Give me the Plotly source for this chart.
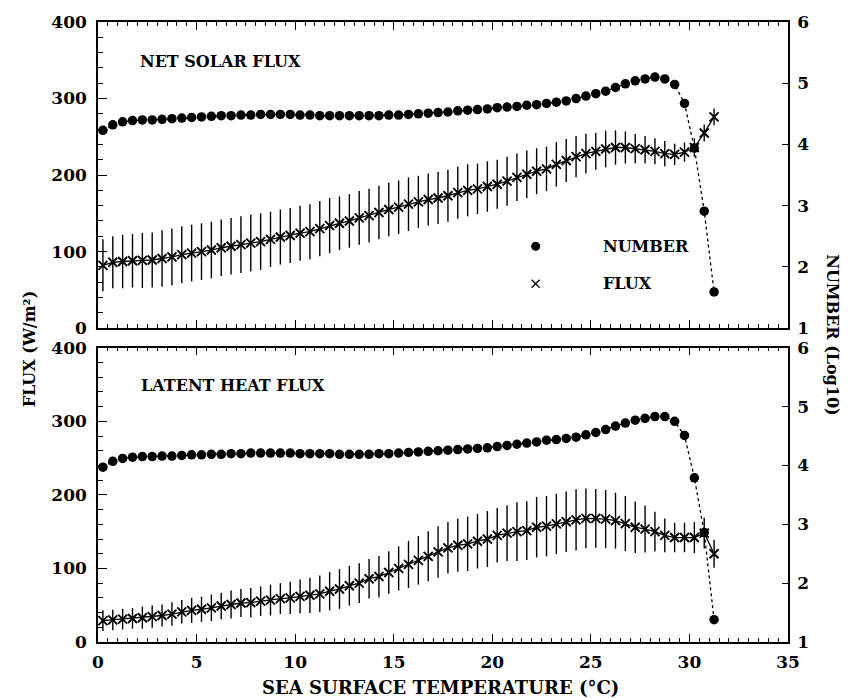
import plotly.graph_objects as go

# Sea surface temperature bins (deg C)
temps = [0.25, 0.75, 1.25, 1.75, 2.25, 2.75, 3.25, 3.75, 4.25, 4.75,
         5.25, 5.75, 6.25, 6.75, 7.25, 7.75, 8.25, 8.75, 9.25, 9.75,
         10.25, 10.75, 11.25, 11.75, 12.25, 12.75, 13.25, 13.75, 14.25, 14.75,
         15.25, 15.75, 16.25, 16.75, 17.25, 17.75, 18.25, 18.75, 19.25, 19.75,
         20.25, 20.75, 21.25, 21.75, 22.25, 22.75, 23.25, 23.75, 24.25, 24.75,
         25.25, 25.75, 26.25, 26.75, 27.25, 27.75, 28.25, 28.75, 29.25, 29.75,
         30.25, 30.75, 31.25]

# Net solar flux panel
solar_number = [4.23, 4.32, 4.37, 4.39, 4.40, 4.40, 4.41, 4.42, 4.43, 4.44,
                4.45, 4.46, 4.47, 4.47, 4.48, 4.48, 4.49, 4.49, 4.49, 4.49,
                4.48, 4.48, 4.47, 4.47, 4.47, 4.47, 4.47, 4.47, 4.47, 4.48,
                4.48, 4.49, 4.50, 4.51, 4.52, 4.53, 4.55, 4.56, 4.57, 4.58,
                4.60, 4.61, 4.62, 4.64, 4.65, 4.67, 4.69, 4.71, 4.75, 4.79,
                4.83, 4.87, 4.93, 4.99, 5.04, 5.07, 5.10, 5.07, 4.98, 4.67,
                3.94, 2.91, 1.59]
solar_flux = [82, 86, 87, 88, 88.5, 89, 91, 93, 96, 98,
              100, 102, 105, 107, 109, 111, 113, 116, 119, 121,
              124, 126, 130, 134, 137, 140, 144, 147, 151, 155,
              158, 162, 165, 168, 170, 173, 177, 180, 182, 185,
              188, 192, 197, 201, 205, 208, 214, 219, 224, 228,
              231, 234, 236, 236, 234.5, 233, 231, 228, 227, 230,
              236, 255, 276]
solar_err = [34, 34, 35, 35, 36, 36, 37, 37, 37, 37,
             37, 37, 37, 37, 37, 37, 37, 36, 36, 36,
             36, 36, 36, 36, 35, 35, 35, 35, 35, 35,
             35, 35, 34, 34, 34, 34, 34, 34, 33, 33,
             32, 32, 31, 31, 30, 29, 29, 28, 27, 26,
             24, 24, 22.5, 21, 19, 18, 17, 16.5, 14, 12.5,
             12, 11, 11]

# Latent heat flux panel
latent_number = [3.97, 4.07, 4.12, 4.14, 4.15, 4.15, 4.16, 4.16, 4.17, 4.18,
                 4.18, 4.19, 4.19, 4.20, 4.20, 4.21, 4.21, 4.21, 4.21, 4.21,
                 4.20, 4.20, 4.20, 4.20, 4.19, 4.19, 4.19, 4.19, 4.20, 4.20,
                 4.21, 4.22, 4.23, 4.24, 4.25, 4.26, 4.27, 4.28, 4.29, 4.30,
                 4.32, 4.34, 4.36, 4.38, 4.40, 4.43, 4.44, 4.46, 4.48, 4.52,
                 4.56, 4.61, 4.67, 4.72, 4.77, 4.80, 4.83, 4.83, 4.75, 4.51,
                 3.79, 2.86, 1.38]
latent_flux = [29, 30, 31, 32, 33, 34.5, 36, 38, 41, 43,
               44.5, 46.5, 49, 51, 53, 53.5, 55.5, 57, 59, 60,
               62, 63.5, 65.5, 69, 72, 76.5, 80, 86, 89, 94.5,
               100, 105.5, 111, 116.5, 122.5, 128, 131.5, 133.5, 137, 140,
               145, 148, 150, 151.5, 156, 157.5, 160.5, 163.5, 166, 168,
               168, 167, 165, 161, 156, 153.5, 150, 145, 142, 142,
               142, 148, 120]
latent_err = [14, 14, 14, 14, 15, 15, 15, 16, 16, 17,
              17, 18, 18, 19, 19, 20, 20, 21, 21, 22,
              23, 24, 25, 26, 27, 27, 27, 27, 28, 29,
              30, 32, 33, 34, 35, 35, 36, 37, 37, 38,
              37, 38, 40, 40, 41, 41, 41, 41, 41.5, 40.5,
              40, 39.5, 38, 37.5, 35, 32, 27, 23, 20, 20,
              21, 21, 19]

x_ticks = [0, 5, 10, 15, 20, 25, 30, 35]
flux_ticks = [0, 100, 200, 300, 400]
number_ticks = [1, 2, 3, 4, 5, 6]

FONT = "DejaVu Serif"
INK = "black"


def bold(s):
    return "<b>" + s + "</b>"


def flux_trace(values, errors, xa, ya):
    return go.Scatter(
        x=temps, y=values, xaxis=xa, yaxis=ya, mode="lines+markers",
        line=dict(color=INK, width=1.3),
        marker=dict(symbol="x-thin", size=9, line=dict(color=INK, width=1.9)),
        error_y=dict(type="data", array=errors, visible=True,
                     thickness=1.4, width=0, color=INK),
        showlegend=False, hoverinfo="skip")


def number_trace(values, xa, ya):
    return go.Scatter(
        x=temps, y=values, xaxis=xa, yaxis=ya, mode="lines+markers",
        line=dict(color=INK, width=1.3, dash="dot"),
        marker=dict(symbol="circle", size=9.5, color=INK),
        showlegend=False, hoverinfo="skip")


fig = go.Figure()
# top panel: net solar flux (x2 / y3 left, y4 right)
fig.add_trace(flux_trace(solar_flux, solar_err, "x2", "y3"))
fig.add_trace(number_trace(solar_number, "x2", "y4"))
# bottom panel: latent heat flux (x / y left, y2 right)
fig.add_trace(flux_trace(latent_flux, latent_err, "x", "y"))
fig.add_trace(number_trace(latent_number, "x", "y2"))

# key symbols inside the top panel
fig.add_trace(go.Scatter(x=[22.2], y=[107], xaxis="x2", yaxis="y3", mode="markers",
                         marker=dict(symbol="circle", size=9, color=INK),
                         showlegend=False, hoverinfo="skip"))
fig.add_trace(go.Scatter(x=[22.2], y=[58], xaxis="x2", yaxis="y3", mode="markers",
                         marker=dict(symbol="x-thin", size=8, line=dict(color=INK, width=1.3)),
                         showlegend=False, hoverinfo="skip"))

tickfont = dict(family=FONT, size=17, color=INK, weight="bold")


def x_axis(domain_anchor, labels):
    return dict(range=[0, 35], anchor=domain_anchor, tickvals=x_ticks,
                showticklabels=labels, ticks="inside", ticklen=8, tickwidth=1.3,
                tickcolor=INK, showline=True, linecolor=INK, linewidth=1.5,
                mirror="ticks", showgrid=False, zeroline=False,
                minor=dict(dtick=0.5, ticks="inside", ticklen=4, tickwidth=1.1,
                           tickcolor=INK, showgrid=False),
                tickfont=tickfont, ticklabelstandoff=4)


def left_axis(domain):
    return dict(domain=domain, range=[0, 400], tickvals=flux_ticks,
                ticks="inside", ticklen=9, tickwidth=1.3, tickcolor=INK,
                showline=True, linecolor=INK, linewidth=1.5, showgrid=False,
                zeroline=False, tickfont=tickfont, ticklabelstandoff=6,
                minor=dict(dtick=20, ticks="inside", ticklen=5, tickwidth=1.1,
                           tickcolor=INK, showgrid=False))


def right_axis(over, anchor):
    return dict(overlaying=over, anchor=anchor, side="right", range=[1, 6],
                tickvals=number_ticks, ticks="inside", ticklen=6, tickwidth=1.3,
                tickcolor=INK, showline=True, linecolor=INK, linewidth=1.5,
                showgrid=False, zeroline=False, tickfont=tickfont,
                ticklabelstandoff=4)


top_dom = [0.5063, 1.0]
bot_dom = [0.0, 0.4746]

fig.update_layout(
    width=848, height=698,
    margin=dict(l=98, r=60, t=12, b=56),
    paper_bgcolor="white", plot_bgcolor="white",
    font=dict(family=FONT, color=INK),
    xaxis=x_axis("y", True),
    xaxis2=x_axis("y3", False),
    yaxis=left_axis(bot_dom),
    yaxis2=right_axis("y", "x"),
    yaxis3=left_axis(top_dom),
    yaxis4=right_axis("y3", "x2"),
)
fig.layout.yaxis3.anchor = "x2"
fig.layout.yaxis.anchor = "x"

title_font = dict(family=FONT, size=16, color=INK)
xtitle_font = dict(family=FONT, size=18, color=INK)
annotations = [
    dict(text=bold("NET SOLAR FLUX"), x=0.058, y=0.9365, xref="paper", yref="paper",
         xanchor="left", yanchor="middle", showarrow=False, font=title_font),
    dict(text=bold("LATENT HEAT FLUX"), x=0.059, y=0.413, xref="paper", yref="paper",
         xanchor="left", yanchor="middle", showarrow=False, font=title_font),
    dict(text=bold("NUMBER"), x=25.5, y=107, xref="x2", yref="y3",
         xanchor="left", yanchor="middle", showarrow=False, font=title_font),
    dict(text=bold("FLUX"), x=25.5, y=58, xref="x2", yref="y3",
         xanchor="left", yanchor="middle", showarrow=False, font=title_font),
    dict(text=bold("SEA SURFACE TEMPERATURE (°C)"), x=0.497, y=-0.073,
         xref="paper", yref="paper", xanchor="center", yanchor="middle",
         showarrow=False, font=xtitle_font),
    dict(text=bold("FLUX (W/m²)"), x=-0.1, y=0.472, xref="paper", yref="paper",
         xanchor="center", yanchor="middle", textangle=-90, showarrow=False,
         font=title_font),
    dict(text=bold("NUMBER (Log10)"), x=1.065, y=0.495, xref="paper", yref="paper",
         xanchor="center", yanchor="middle", textangle=90, showarrow=False,
         font=title_font),
]
fig.update_layout(annotations=annotations)

fig.write_html("out.html")
